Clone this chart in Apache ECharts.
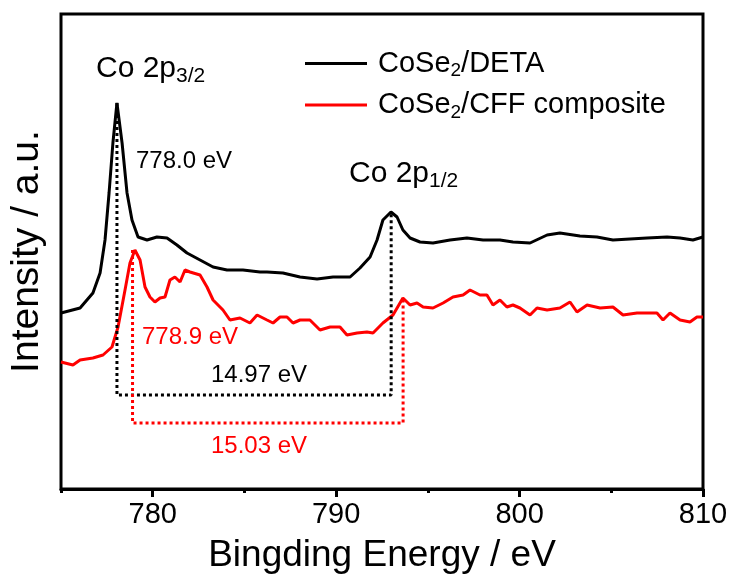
<!DOCTYPE html>
<html>
<head>
<meta charset="utf-8">
<script src="https://cdn.jsdelivr.net/npm/echarts@6/dist/echarts.min.js"></script>
<style>
  html, body { margin: 0; padding: 0; background: #fff; }
  #chart { width: 732px; height: 581px; }
</style>
</head>
<body>
<div id="chart"></div>
<script>
// binding energy (eV) and intensity (a.u.)
const deta_x = [775.00, 776.04, 776.74, 777.13, 777.40, 777.62, 777.83, 778.05, 778.33, 778.60, 778.87, 779.20, 779.69, 780.23, 780.78, 781.32, 781.87, 782.58, 783.29, 784.05, 784.92, 785.85, 786.23, 787.10, 788.03, 788.96, 789.83, 790.76, 791.30, 791.85, 792.23, 792.55, 792.99, 793.32, 793.64, 794.03, 794.57, 795.28, 796.21, 797.13, 798.01, 798.93, 799.64, 800.57, 801.50, 802.20, 803.29, 804.22, 805.09, 806.02, 806.95, 808.04, 808.75, 809.45, 810.00]
const deta_y = [176, 181, 196, 216, 249, 296, 346, 386, 346, 296, 269, 252, 249, 252, 251, 244, 236, 229, 222, 219, 219, 217, 217, 216, 212, 210, 212, 212, 221, 232, 249, 269, 277, 272, 259, 251, 247, 246, 249, 251, 249, 249, 247, 246, 254, 256, 253, 252, 249, 250, 251, 252, 251, 249, 252]

const cff_x = [775.00, 775.65, 776.04, 776.74, 777.29, 777.78, 778.11, 778.49, 778.76, 779.03, 779.31, 779.58, 779.85, 780.12, 780.40, 780.67, 780.94, 781.21, 781.49, 781.76, 782.03, 782.58, 782.96, 783.29, 783.83, 784.21, 784.76, 785.30, 785.69, 786.23, 786.56, 786.94, 787.32, 787.65, 788.03, 788.57, 789.12, 789.67, 790.21, 790.59, 791.14, 791.68, 792.01, 792.55, 793.10, 793.64, 794.03, 794.41, 794.74, 795.28, 795.83, 796.37, 796.92, 797.30, 797.84, 798.22, 798.55, 798.93, 799.31, 799.64, 800.02, 800.57, 800.95, 801.50, 802.20, 802.75, 803.13, 803.68, 804.39, 805.09, 805.64, 806.40, 806.95, 807.49, 807.82, 808.20, 808.75, 809.29, 809.67, 810.00]
const cff_y = [127, 124, 129, 131, 134, 142, 162, 199, 226, 239, 229, 202, 192, 187, 191, 192, 209, 212, 207, 219, 217, 214, 202, 189, 179, 169, 171, 166, 174, 169, 166, 172, 172, 166, 169, 169, 159, 162, 162, 154, 156, 157, 156, 166, 174, 191, 184, 186, 182, 181, 186, 192, 194, 199, 194, 194, 184, 189, 182, 184, 181, 174, 181, 179, 181, 187, 177, 184, 181, 182, 174, 176, 176, 176, 169, 176, 169, 167, 172, 172]

// dotted guides: peak positions and the baseline of each bracket
const deta_guide_x = [778.05, 778.05, 793.0, 793.0]
const deta_guide_y = [386, 94, 94, 277]
const cff_guide_x = [778.9, 778.9, 793.65, 793.65]
const cff_guide_y = [239, 66, 66, 191]

const major_ticks = [780, 790, 800, 810]
const minor_ticks = [775, 785, 795, 805]

const zip = (xs, ys) => xs.map((x, i) => [x, ys[i]])

const chart = echarts.init(document.getElementById('chart'))
const font = 'Liberation Sans, Arial, sans-serif'

const legendRich = {
    n: { fontSize: 29, fontFamily: font, color: '#000' },
    s: { fontSize: 19, fontFamily: font, color: '#000', padding: [15, 0, 0, 0] }
}

const peakRich = {
    a: { fontSize: 30, fontFamily: font, fill: '#000' },
    b: { fontSize: 21, fontFamily: font, fill: '#000', padding: [15, 0, 0, 0] }
}

const option = {
    animation: false,
    grid: {
        left: 61, right: 29, top: 14, bottom: 92,
        show: true, borderColor: '#000', borderWidth: 3
    },
    legend: {
        data: ['CoSe2/DETA', 'CoSe2/CFF composite'],
        orient: 'vertical',
        left: 300, top: 44,
        itemWidth: 62, itemHeight: 3, itemGap: 10,
        icon: 'rect',
        formatter: (name) => name === 'CoSe2/DETA'
            ? '{n|CoSe}{s|2}{n|/DETA}'
            : '{n|CoSe}{s|2}{n|/CFF composite}',
        textStyle: { rich: legendRich, padding: [0, 0, 0, 6] }
    },
    xAxis: [{
        type: 'value', min: 775, max: 810,
        name: 'Bingding Energy / eV',
        nameLocation: 'middle', nameGap: 48,
        nameTextStyle: { fontSize: 37, fontFamily: font, color: '#000' },
        axisLine: { lineStyle: { color: '#000', width: 3 } },
        axisTick: { customValues: major_ticks, length: 8, lineStyle: { width: 3, color: '#000' } },
        axisLabel: { customValues: major_ticks, fontSize: 29, fontFamily: font, color: '#000', margin: 11 },
        splitLine: { show: false }
    }, {
        type: 'value', min: 775, max: 810, position: 'bottom',
        axisLine: { show: false },
        axisTick: { customValues: minor_ticks, length: 4, lineStyle: { width: 3, color: '#000' } },
        axisLabel: { show: false },
        splitLine: { show: false }
    }],
    yAxis: {
        type: 'value', min: 0, max: 475,
        name: 'Intensity / a.u.',
        nameLocation: 'middle', nameGap: 14,
        nameTextStyle: { fontSize: 39, fontFamily: font, color: '#000' },
        axisLine: { show: false },
        axisTick: { show: false },
        axisLabel: { show: false },
        splitLine: { show: false }
    },
    series: [{
        name: 'CoSe2/DETA', type: 'line', showSymbol: false, symbol: 'none',
        data: zip(deta_x, deta_y),
        lineStyle: { color: '#000', width: 3 }, itemStyle: { color: '#000' }
    }, {
        name: 'CoSe2/CFF composite', type: 'line', showSymbol: false, symbol: 'none',
        data: zip(cff_x, cff_y),
        lineStyle: { color: '#ff0000', width: 3 }, itemStyle: { color: '#ff0000' }
    }, {
        name: 'guide1', type: 'line', symbol: 'none', silent: true, z: 3,
        data: zip(deta_guide_x, deta_guide_y),
        lineStyle: { color: '#000', width: 3, type: [3, 3] }
    }, {
        name: 'guide2', type: 'line', symbol: 'none', silent: true, z: 3,
        data: zip(cff_guide_x, cff_guide_y),
        lineStyle: { color: '#ff0000', width: 3, type: [3, 3] }
    }],
    graphic: [{
        type: 'text', left: 96, top: 54,
        style: { text: '{a|Co 2p}{b|3/2}', rich: peakRich }
    }, {
        type: 'text', left: 349, top: 159,
        style: { text: '{a|Co 2p}{b|1/2}', rich: peakRich }
    }, {
        type: 'text', left: 136, top: 149,
        style: { text: '778.0 eV', fontSize: 24, fontFamily: font, fill: '#000' }
    }, {
        type: 'text', left: 142, top: 325,
        style: { text: '778.9 eV', fontSize: 24, fontFamily: font, fill: '#ff0000' }
    }, {
        type: 'text', left: 211, top: 363,
        style: { text: '14.97 eV', fontSize: 24, fontFamily: font, fill: '#000' }
    }, {
        type: 'text', left: 211, top: 434,
        style: { text: '15.03 eV', fontSize: 24, fontFamily: font, fill: '#ff0000' }
    }]
}

chart.setOption(option)
</script>
</body>
</html>
